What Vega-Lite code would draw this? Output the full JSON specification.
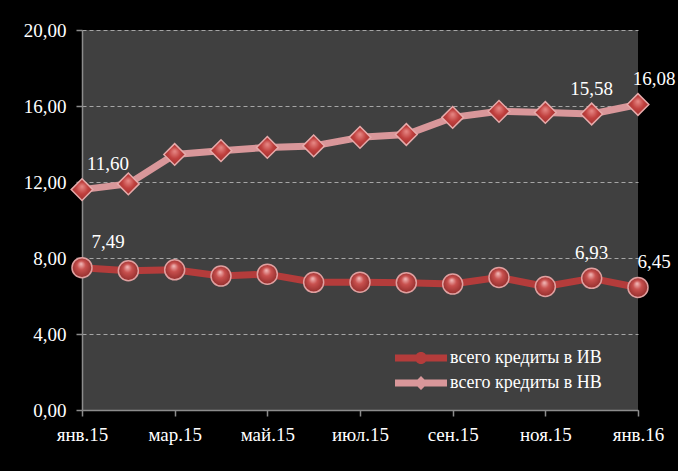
{
  "$schema": "https://vega.github.io/schema/vega-lite/v6.json",
  "width": 556,
  "height": 380,
  "autosize": {"type": "none"},
  "padding": {"left": 82, "top": 30, "right": 40, "bottom": 61},
  "background": "#000000",
  "config": {
    "view": {"fill": "#404040", "stroke": null},
    "axis": {"labelColor": "#ffffff", "domainColor": "#8c8c8c", "tickColor": "#8c8c8c", "domainWidth": 1.5, "tickWidth": 1.5, "tickSize": 6, "title": null}
  },
  "data": {"values": [
    {"month": "янв.15", "series": "всего кредиты в ИВ", "value": 7.49},
    {"month": "фев.15", "series": "всего кредиты в ИВ", "value": 7.33},
    {"month": "мар.15", "series": "всего кредиты в ИВ", "value": 7.38},
    {"month": "апр.15", "series": "всего кредиты в ИВ", "value": 7.05},
    {"month": "май.15", "series": "всего кредиты в ИВ", "value": 7.15},
    {"month": "июн.15", "series": "всего кредиты в ИВ", "value": 6.72},
    {"month": "июл.15", "series": "всего кредиты в ИВ", "value": 6.73},
    {"month": "авг.15", "series": "всего кредиты в ИВ", "value": 6.70},
    {"month": "сен.15", "series": "всего кредиты в ИВ", "value": 6.63},
    {"month": "окт.15", "series": "всего кредиты в ИВ", "value": 6.98},
    {"month": "ноя.15", "series": "всего кредиты в ИВ", "value": 6.50},
    {"month": "дек.15", "series": "всего кредиты в ИВ", "value": 6.93},
    {"month": "янв.16", "series": "всего кредиты в ИВ", "value": 6.45},
    {"month": "янв.15", "series": "всего кредиты в НВ", "value": 11.60},
    {"month": "фев.15", "series": "всего кредиты в НВ", "value": 11.90},
    {"month": "мар.15", "series": "всего кредиты в НВ", "value": 13.45},
    {"month": "апр.15", "series": "всего кредиты в НВ", "value": 13.65},
    {"month": "май.15", "series": "всего кредиты в НВ", "value": 13.82},
    {"month": "июн.15", "series": "всего кредиты в НВ", "value": 13.90},
    {"month": "июл.15", "series": "всего кредиты в НВ", "value": 14.35},
    {"month": "авг.15", "series": "всего кредиты в НВ", "value": 14.50},
    {"month": "сен.15", "series": "всего кредиты в НВ", "value": 15.40},
    {"month": "окт.15", "series": "всего кредиты в НВ", "value": 15.72},
    {"month": "ноя.15", "series": "всего кредиты в НВ", "value": 15.66},
    {"month": "дек.15", "series": "всего кредиты в НВ", "value": 15.58},
    {"month": "янв.16", "series": "всего кредиты в НВ", "value": 16.08}
  ]},
  "encoding": {
    "x": {"field": "month", "type": "ordinal", "sort": null,
      "scale": {"type": "point", "padding": 0},
      "axis": {"values": ["янв.15", "мар.15", "май.15", "июл.15", "сен.15", "ноя.15", "янв.16"], "labelAngle": 0, "labelPadding": 9, "grid": false, "labelFont": "Liberation Serif", "labelFontSize": 19}},
    "y": {"field": "value", "type": "quantitative",
      "scale": {"domain": [0, 20], "nice": false, "zero": true},
      "axis": {"values": [0, 4, 8, 12, 16, 20], "labelExpr": "replace(format(datum.value, '.2f'), '.', ',')", "labelPadding": 10, "grid": true, "gridColor": "#a6a6a6", "gridDash": [4, 3], "gridWidth": 1, "labelFont": "Liberation Serif", "labelFontSize": 19}}
  },
  "layer": [
    {
      "mark": {"type": "line", "strokeWidth": 7, "strokeCap": "round", "strokeJoin": "round"},
      "encoding": {
        "color": {"field": "series", "type": "nominal",
          "scale": {"domain": ["всего кредиты в ИВ", "всего кредиты в НВ"], "range": ["#b43c3b", "#d9979a"]},
          "legend": {"orient": "none", "legendX": 313, "legendY": 318, "title": null,
            "labelColor": "#ffffff", "labelFont": "Liberation Serif", "labelFontSize": 18,
            "symbolSize": 400, "labelOffset": 35, "rowPadding": 6, "symbolStrokeWidth": 0,
            "encode": {"symbols": {"update": {
              "shape": {"signal": "datum.value == 'всего кредиты в ИВ' ? 'M-1,-0.35 H4.2 V0.35 H-1 Z M2.2,0 A0.6,0.6 0 1,1 1,0 A0.6,0.6 0 1,1 2.2,0 Z' : 'M-1,-0.35 H4.2 V0.35 H-1 Z M1.6,-0.7 L2.3,0 L1.6,0.7 L0.9,0 Z'"},
              "fill": {"signal": "datum.value == 'всего кредиты в ИВ' ? '#b43c3b' : '#d9979a'"},
              "stroke": {"value": "transparent"}
            }}}}
        }
      }
    },
    {
      "transform": [{"filter": "datum.series == 'всего кредиты в ИВ'"}],
      "mark": {"type": "point", "shape": "circle", "filled": true, "size": 400, "opacity": 1, "stroke": "#e0a0a0", "strokeWidth": 1.5,
        "fill": {"gradient": "radial", "x1": 0.45, "y1": 0.3, "x2": 0.5, "y2": 0.5, "r1": 0, "r2": 0.55,
          "stops": [{"offset": 0, "color": "#f4c0bf"}, {"offset": 0.4, "color": "#c8504e"}, {"offset": 1, "color": "#8e2a29"}]}}
    },
    {
      "transform": [{"filter": "datum.series == 'всего кредиты в НВ'"}],
      "mark": {"type": "point", "shape": "diamond", "filled": true, "size": 470, "opacity": 1, "stroke": "#e6aaaa", "strokeWidth": 1.5,
        "fill": {"gradient": "radial", "x1": 0.5, "y1": 0.35, "x2": 0.5, "y2": 0.5, "r1": 0, "r2": 0.55,
          "stops": [{"offset": 0, "color": "#e88b88"}, {"offset": 0.5, "color": "#c0403e"}, {"offset": 1, "color": "#9a2e2d"}]}}
    },
    {
      "transform": [{"filter": "datum.month == 'янв.15'"}, {"calculate": "replace(format(datum.value, '.2f'), '.', ',')", "as": "label"}],
      "mark": {"type": "text", "color": "#ffffff", "fontSize": 19, "font": "Liberation Serif", "dx": 26, "dy": -26},
      "encoding": {"text": {"field": "label"}}
    },
    {
      "transform": [{"filter": "datum.month == 'дек.15'"}, {"calculate": "replace(format(datum.value, '.2f'), '.', ',')", "as": "label"}],
      "mark": {"type": "text", "color": "#ffffff", "fontSize": 19, "font": "Liberation Serif", "dx": 0, "dy": -25},
      "encoding": {"text": {"field": "label"}}
    },
    {
      "transform": [{"filter": "datum.month == 'янв.16'"}, {"calculate": "replace(format(datum.value, '.2f'), '.', ',')", "as": "label"}],
      "mark": {"type": "text", "color": "#ffffff", "fontSize": 19, "font": "Liberation Serif", "dx": 16, "dy": -25},
      "encoding": {"text": {"field": "label"}}
    }
  ]
}
